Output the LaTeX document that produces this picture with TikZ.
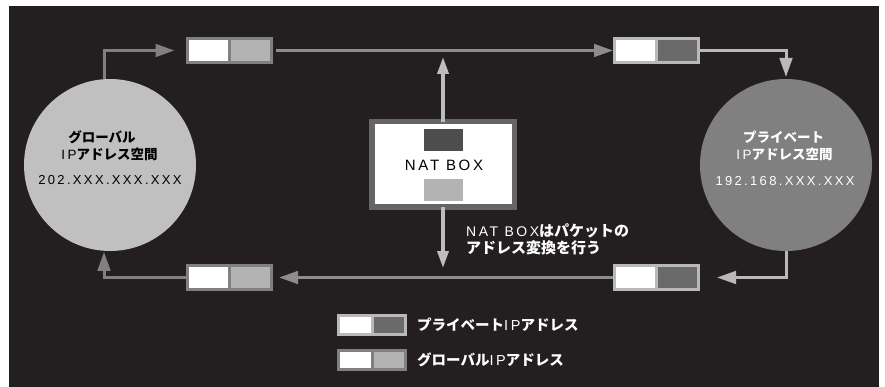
\documentclass[tikz,border=0pt]{standalone}
\usepackage{fontspec}
\setmainfont{Liberation Sans}
\newfontfamily\jp{Noto Sans CJK JP}
\newfontfamily\spc[LetterSpace=18]{Liberation Sans}
\usetikzlibrary{arrows.meta}
\definecolor{bgdark}{HTML}{231F20}
\definecolor{gcirc}{HTML}{C0C0C0}
\definecolor{pcirc}{HTML}{808080}
\definecolor{gborder}{HTML}{808080}
\definecolor{glight}{HTML}{B3B3B3}
\definecolor{pborder}{HTML}{B9B9B9}
\definecolor{pdark}{HTML}{6A6A6A}
\definecolor{natborder}{HTML}{656565}
\definecolor{natdark}{HTML}{4D4D4D}
\definecolor{natlight}{HTML}{B3B3B3}
\definecolor{midline}{HTML}{8C8C8C}
\definecolor{natline}{HTML}{BDBDBD}
\newcommand{\ipword}{{\spc\mdseries IP}}
\tikzset{
  pkt/.style={rectangle, minimum width=84pt, minimum height=24pt, inner sep=0pt, outer sep=0pt, line width=3pt, fill=white},
  gpkt/.style={pkt, draw=gborder, path picture={
      \fill[glight] (path picture bounding box.south) rectangle (path picture bounding box.north east);
      \draw[gborder, line width=3pt] (path picture bounding box.south) -- (path picture bounding box.north);}},
  ppkt/.style={pkt, draw=pborder, path picture={
      \fill[pdark] (path picture bounding box.south) rectangle (path picture bounding box.north east);
      \draw[pborder, line width=3pt] (path picture bounding box.south) -- (path picture bounding box.north);}},
  legsize/.style={minimum width=67pt, minimum height=19pt},
  conn/.style={line width=3pt, -{Triangle[length=19pt, width=12.5pt]}},
  gline/.style={conn, draw=gborder},
  pline/.style={conn, draw=pborder},
  mline/.style={conn, draw=midline},
  nline/.style={line width=3.5pt, draw=natline, -{Triangle[length=17pt, width=11pt]}},
  jptxt/.style={font=\jp\bfseries\fontsize{13.5}{15}\selectfont, inner sep=0pt},
  jpbig/.style={font=\jp\bfseries\fontsize{14.5}{16}\selectfont, inner sep=0pt, text=white},
  jpann/.style={font=\jp\bfseries\fontsize{15}{17}\selectfont, inner sep=0pt, text=white},
  numtxt/.style={font=\spc\fontsize{13}{15}\selectfont, inner sep=0pt},
}
\begin{document}
\begin{tikzpicture}[x=1pt, y=-1pt]
\useasboundingbox (0,0) rectangle (885,387);
\fill[white] (0,0) rectangle (885,387);
\fill[bgdark] (9,6) rectangle (879,387);

% circles
\node[circle, fill=gcirc, minimum size=172pt, inner sep=0pt, outer sep=0pt] (gc) at (110,165) {};
\node[circle, fill=pcirc, minimum size=172pt, inner sep=0pt, outer sep=0pt] (pc) at (786,165) {};

% packets
\node[gpkt] (tl) at (229.5,50.5) {};
\node[ppkt] (tr) at (656.5,50.5) {};
\node[gpkt] (bl) at (229.5,277.5) {};
\node[ppkt] (br) at (656.5,277.5) {};

% NAT box
\node[rectangle, draw=natborder, line width=5.5pt, fill=white, minimum width=142.5pt, minimum height=85.5pt, inner sep=0pt, outer sep=0pt] (nat) at (443,164.5) {};
\node[rectangle, fill=natdark, minimum width=39pt, minimum height=22pt, inner sep=0pt] (natd) at (443.5,140) {};
\node[rectangle, fill=natlight, minimum width=39pt, minimum height=22pt, inner sep=0pt] (natl) at (443.5,190) {};
\node[font=\spc\fontsize{15}{17}\selectfont, inner sep=0pt] (natt) at (444,165.5) {NAT BOX};

% connectors
\draw[gline, shorten >=13pt] (gc.94) |- (tl.west);
\draw[mline, shorten <=4.5pt, shorten >=1.5pt] (tl.east) -- (tr.west);
\draw[pline, shorten >=2pt] (tr.east) -| (pc.north);
\draw[pline, shorten >=18.5pt] (pc.south) |- (br.east);
\draw[mline, shorten >=7.5pt] (br.west) -- (bl.east);
\draw[gline, shorten >=1pt] (bl.west) -| (gc.266);
\draw[nline, shorten >=6.5pt] (nat.north) -- (nat.north |- tl.center);
\draw[nline, shorten >=9.5pt] (nat.south) -- (nat.south |- bl.center);

% redraw packets over lines
\node[gpkt] at (tl) {};
\node[ppkt] at (tr) {};
\node[gpkt] at (bl) {};
\node[ppkt] at (br) {};

% circle texts
\node[jptxt, text=black] (g1) at (102,137) {グローバル};
\node[jptxt, text=black] (g2) at (109.5,154.5) {\ipword アドレス空間};
\node[numtxt, text=black] (g3) at (110,180) {202.XXX.XXX.XXX};
\node[jptxt, text=white] (p1) at (783.5,137) {プライベート};
\node[jptxt, text=white] (p2) at (784.5,154.5) {\ipword アドレス空間};
\node[numtxt, text=white] (p3) at (785,181.5) {192.168.XXX.XXX};

% annotation
\node[jpann, anchor=west] (ann1) at (466,231) {{\spc\mdseries\fontsize{14}{16}\selectfont NAT BOX}はパケットの};
\node[jpann, anchor=west] (ann2) at (466,247.5) {アドレス変換を行う};

% legend
\node[ppkt, legsize] (lg1) at (372,325) {};
\node[gpkt, legsize] (lg2) at (372,359.5) {};
\node[jpbig, anchor=west] (lt1) at (417,325) {プライベート\ipword アドレス};
\node[jpbig, anchor=west] (lt2) at (417,359.5) {グローバル\ipword アドレス};
\end{tikzpicture}
\end{document}
